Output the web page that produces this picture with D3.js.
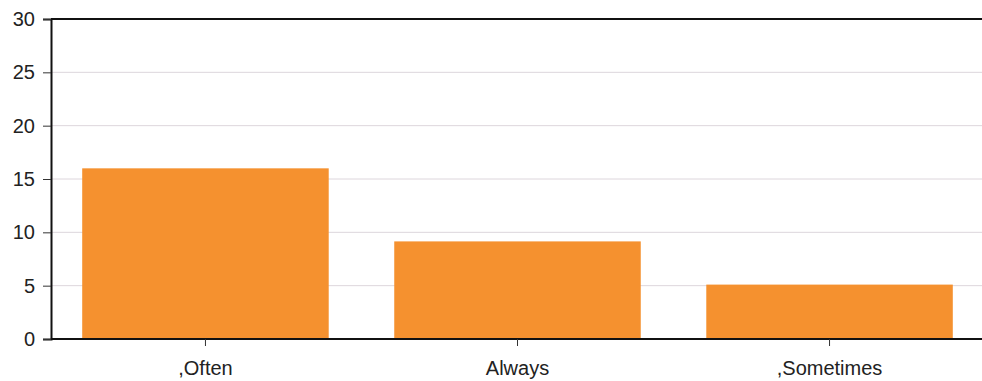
<!DOCTYPE html>
<html><head><meta charset="utf-8">
<script src="https://cdn.jsdelivr.net/npm/d3@7"></script>
<style>body{margin:0;background:#fff}svg{display:block}</style>
</head><body>
<script>
const categories = [",Often", "Always", ",Sometimes"];
const values = [16, 9.15, 5.1];
const yTicks = [0, 5, 10, 15, 20, 25, 30];

const W = 982, H = 381;
const m = {left: 51, right: -2, top: 19, bottom: 42};
const svg = d3.select("body").append("svg").attr("width", W).attr("height", H);

const x = d3.scaleBand().domain(categories).range([m.left, W - m.right]).paddingInner(0.21).paddingOuter(0.1);
const y = d3.scaleLinear().domain([0, 30]).range([H - m.bottom, m.top]);

// gridlines
svg.append("g").selectAll("line").data(yTicks.filter(t => t > 0 && t < 30)).join("line")
  .attr("x1", m.left).attr("x2", W).attr("y1", d => y(d)).attr("y2", d => y(d))
  .attr("stroke", "#ddd6dc").attr("stroke-width", 1);

// bars
svg.append("g").selectAll("rect").data(values).join("rect")
  .attr("x", (d, i) => x(categories[i])).attr("width", x.bandwidth())
  .attr("y", d => y(d)).attr("height", d => y(0) - y(d))
  .attr("fill", "#f5912f");

// top line
svg.append("line").attr("x1", m.left).attr("x2", W).attr("y1", y(30)).attr("y2", y(30))
  .attr("stroke", "#111").attr("stroke-width", 2);

// y axis
const ya = svg.append("g").attr("transform", `translate(${m.left},0)`)
  .call(d3.axisLeft(y).tickValues(yTicks).tickSize(8).tickPadding(8));
ya.select(".domain").attr("stroke", "#111").attr("stroke-width", 2);
ya.selectAll(".tick line").attr("stroke", "#333");
ya.selectAll("text").attr("font-family", "Liberation Sans, Arial, sans-serif").attr("font-size", 20).attr("fill", "#222");

// x axis
const xa = svg.append("g").attr("transform", `translate(0,${y(0)})`)
  .call(d3.axisBottom(x).tickSize(7).tickSizeOuter(0).tickPadding(15));
xa.select(".domain").attr("stroke", "#111").attr("stroke-width", 2).attr("d", `M${m.left},0H${W}`);
xa.selectAll(".tick line").attr("stroke", "#333");
xa.selectAll("text").attr("font-family", "Liberation Sans, Arial, sans-serif").attr("font-size", 20).attr("fill", "#222");
</script>
</body></html>
